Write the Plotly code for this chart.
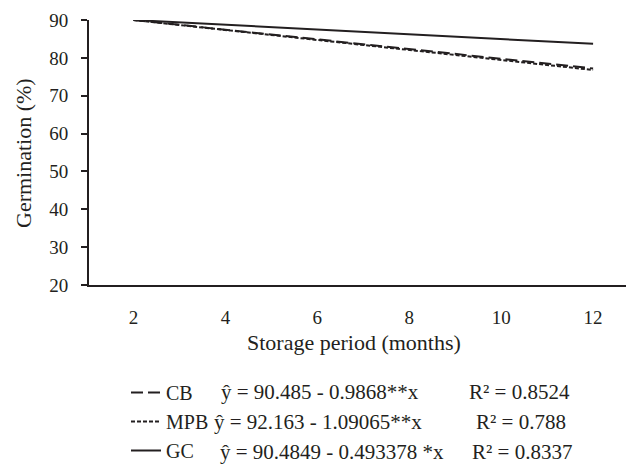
import plotly.graph_objects as go

# Data (fitted lines, start and end of storage period)
months = [2, 12]
cb = [90.0, 77.2]
mpb = [90.0, 76.8]
gc = [90.0, 83.7]

series_names = ["CB", "MPB", "GC"]
equations = ["ŷ = 90.485 - 0.9868**x", "ŷ = 92.163 - 1.09065**x", "ŷ = 90.4849 - 0.493378 *x"]
r2_labels = ["R² = 0.8524", "R² = 0.788", "R² = 0.8337"]

y_ticks = [20, 30, 40, 50, 60, 70, 80, 90]
x_ticks = [2, 4, 6, 8, 10, 12]

FONT = "Liberation Serif, Times New Roman, DejaVu Serif, serif"
INK = "#231f20"

fig = go.Figure()
styles = [dict(dash="12px,5px"), dict(dash="4px,2px"), dict(dash="solid")]
for i, (name, vals) in enumerate(zip(series_names, [cb, mpb, gc])):
    fig.add_trace(go.Scatter(
        x=months, y=vals, mode="lines", name=name, legendgroup=name,
        line=dict(color=INK, width=2, **styles[i]),
    ))

# page body has an 8px margin: figure coords = screen coords - 8
OFF = 8
W, H = 634, 472
L, R, T, B = 81, 8, 12, 195
pw, ph = W - L - R, H - T - B

def px_x(sx):
    return (sx - OFF - L) / pw

def px_y(sy):
    return (H - B - (sy - OFF)) / ph

eq_x = [219, 212, 218]
r2_x = [467, 474, 470]
rows_y = [392, 422, 452]
ann = []
for i in range(3):
    ann.append(dict(text=equations[i], x=px_x(eq_x[i]), y=px_y(rows_y[i]), xref="paper", yref="paper",
                    xanchor="left", yanchor="middle", showarrow=False, font=dict(family=FONT, size=21, color=INK)))
    ann.append(dict(text=r2_labels[i], x=px_x(r2_x[i]), y=px_y(rows_y[i]), xref="paper", yref="paper",
                    xanchor="left", yanchor="middle", showarrow=False, font=dict(family=FONT, size=21, color=INK)))
ann.append(dict(text="Storage period (months)", x=px_x(354), y=px_y(342), xref="paper", yref="paper",
                xanchor="center", yanchor="middle", showarrow=False, font=dict(family=FONT, size=22, color=INK)))
ann.append(dict(text="Germination (%)", x=px_x(23), y=px_y(153), xref="paper", yref="paper",
                xanchor="center", yanchor="middle", textangle=-90, showarrow=False,
                font=dict(family=FONT, size=22, color=INK)))

fig.update_layout(
    width=W, height=H,
    margin=dict(l=L, r=R, t=T, b=B, autoexpand=False),
    paper_bgcolor="white", plot_bgcolor="white",
    font=dict(family=FONT, size=19, color=INK),
    annotations=ann,
    showlegend=True,
    legend=dict(
        x=px_x(126), y=px_y(373), xanchor="left", yanchor="top",
        tracegroupgap=0, bgcolor="rgba(0,0,0,0)",
        font=dict(family=FONT, size=20, color=INK),
    ),
    xaxis=dict(
        range=[1.032, 12.89], tickvals=x_ticks, ticktext=[str(v) for v in x_ticks],
        showline=True, linecolor=INK, linewidth=2, ticks="", showgrid=False, zeroline=False,
        automargin=False,
        ticklabelstandoff=14, tickfont=dict(family=FONT, size=19, color=INK),
    ),
    yaxis=dict(
        range=[20, 90], tickvals=y_ticks,
        showline=True, linecolor=INK, linewidth=2, ticks="outside", ticklen=6, tickwidth=2, tickcolor=INK,
        showgrid=False, zeroline=False, ticklabelstandoff=9, automargin=False,
        tickfont=dict(family=FONT, size=19, color=INK),
    ),
)

fig.write_html("out.html")
